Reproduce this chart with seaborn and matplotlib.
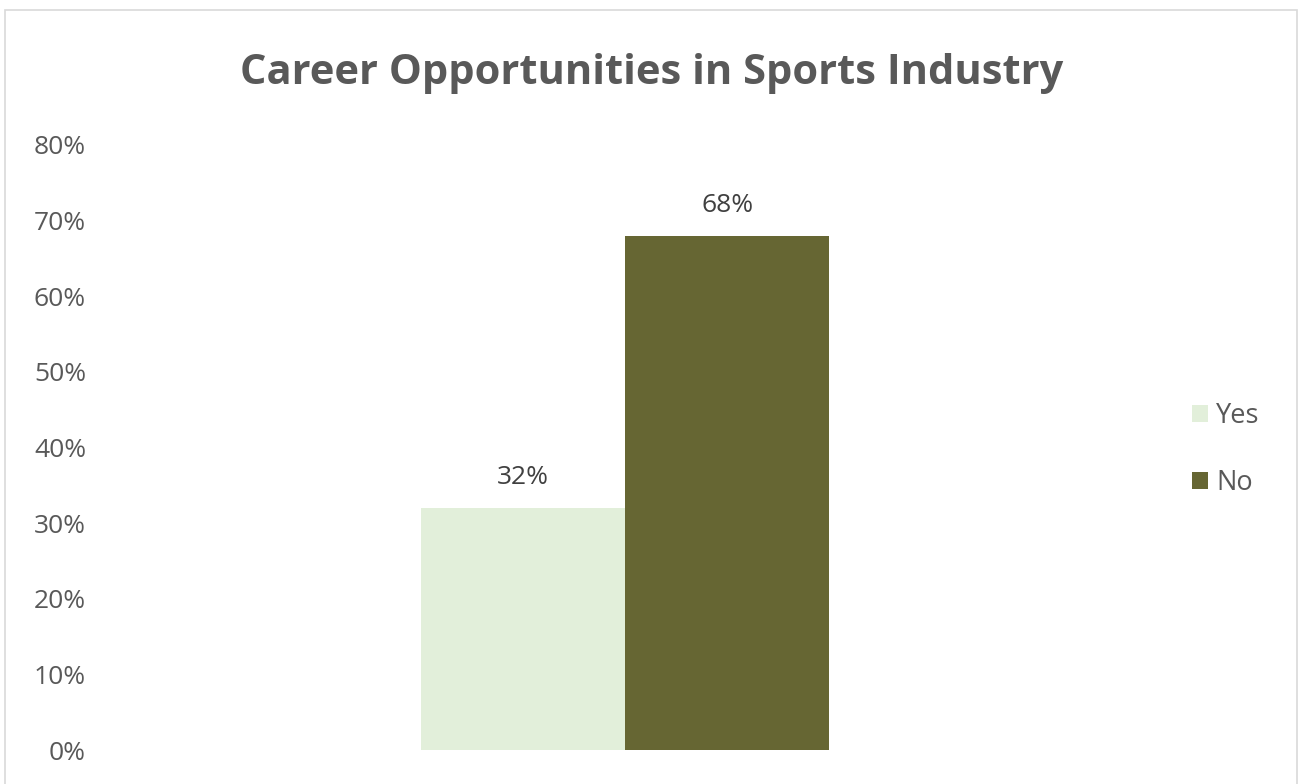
import matplotlib
matplotlib.use("Agg")
import matplotlib.pyplot as plt
from matplotlib.patches import Rectangle
import pandas as pd
import seaborn as sns

# Survey answers and their shares
categories = ["Career Opportunities"]
answers = ["Yes", "No"]
shares = [0.32, 0.68]
y_ticks = [0.0, 0.1, 0.2, 0.3, 0.4, 0.5, 0.6, 0.7, 0.8]
tick_labels = ["0%", "10%", "20%", "30%", "40%", "50%", "60%", "70%", "80%"]
colors = {"Yes": "#E2EFDA", "No": "#666633"}

sns.set_theme(style="white")
plt.rcParams["font.family"] = ["Open Sans", "DejaVu Sans"]

df = pd.DataFrame({
    "category": categories * len(answers),
    "answer": answers,
    "share": shares,
})

W, H = 1299, 784
fig = plt.figure(figsize=(W / 100, H / 100), dpi=100)
ax = fig.add_axes([100 / W, 1 - 750 / H, 1050 / W, (750 - 145) / H])

sns.barplot(data=df, x="category", y="share", hue="answer",
            hue_order=answers, palette=colors, width=0.389,
            saturation=1, ax=ax, legend=True, linewidth=0)

ax.set_xlim(-0.5, 0.5)
ax.set_ylim(0, 0.8)
ax.set_yticks(y_ticks)
ax.set_yticklabels(tick_labels)
ax.tick_params(axis="y", labelsize=19, labelcolor="#595959", length=0, pad=10)
ax.set_xticks([])
ax.set_xlabel("")
ax.set_ylabel("")
for s in ax.spines.values():
    s.set_visible(False)

for cont in ax.containers:
    ax.bar_label(cont, labels=[f"{v * 100:.0f}%" for v in cont.datavalues],
                 padding=13, fontsize=19, color="#404040")

leg = ax.legend(loc="center left", bbox_to_anchor=(1.04, 0.497),
                frameon=False, fontsize=19.5, handlelength=0.6, handleheight=0.6,
                handletextpad=0.3, labelspacing=1.45, borderaxespad=0.0,
                borderpad=0.0)
for t in leg.get_texts():
    t.set_color("#595959")

fig.text(0.502, 1 - 74 / H, "Career Opportunities in Sports Industry",
         ha="center", va="center", fontsize=30, fontweight="bold",
         color="#595959")

# Chart area outline
fig.patches.append(Rectangle((5 / W, -0.05), (W - 7) / W, 1 - 10 / H + 0.05,
                             transform=fig.transFigure, fill=False,
                             edgecolor="#D9D9D9", linewidth=1.2))

fig.savefig("out.png", dpi=100, facecolor="white")
